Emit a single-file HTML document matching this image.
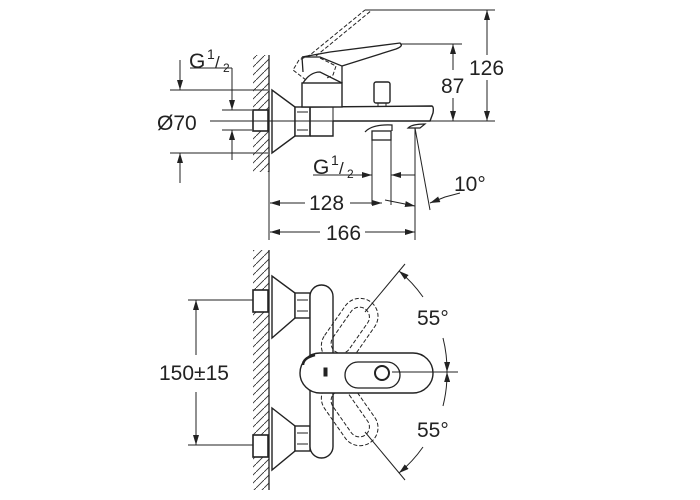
<!DOCTYPE html>
<html><head><style>
html,body{margin:0;padding:0;background:#fff;}
svg{display:block;}
text{font-family:"Liberation Sans",sans-serif;fill:#222;}
</style></head><body>
<svg width="700" height="500" viewBox="0 0 700 500" xmlns="http://www.w3.org/2000/svg">
<defs>
<pattern id="h" width="8" height="8" patternUnits="userSpaceOnUse">
<path d="M0 8 L8 0" stroke="#333" stroke-width="0.9"/>
</pattern>
<marker id="a" markerWidth="10" markerHeight="6" refX="10" refY="3" orient="auto" markerUnits="userSpaceOnUse">
<path d="M0 0 L10 3 L0 6 Z" fill="#222"/>
</marker>
</defs>
<g stroke="#222" fill="none" stroke-width="1">
<!-- TOP VIEW -->
<rect x="253" y="55" width="16" height="117" fill="url(#h)" stroke="none"/>
<line x1="269" y1="55" x2="269" y2="172" stroke-width="1.3"/>
<rect x="253" y="110" width="15" height="21" fill="#fff" stroke-width="1.6"/>
<path d="M272 90 L272 153 L295 136 L295 107 Z" fill="#fff" stroke-width="1.4"/>
<rect x="295" y="107" width="15" height="29" fill="#fff" stroke-width="1.4"/>
<path d="M297 112 L308 112 M297 121 L308 121 M297 130 L308 130"/>
<path d="M310 107 L432 106 Q434 107 433 113 L430 121 L333 121 M310 136 L333 136 L333 121" stroke-width="1.4" fill="#fff"/>
<path d="M333 107 L333 136" />
<path d="M310 107 L310 136" stroke-width="1.4"/>
<path d="M365 132 Q372 124 392 125 L392 131 M408 128 Q412 124 425 124 L420 128 Z" stroke-width="1.2"/>
<rect x="302" y="83" width="40" height="24" fill="#fff" stroke-width="1.4"/>
<path d="M303 83 Q310 72 320 72 L342 83" stroke-width="1.3"/>
<path d="M302 57 L320 57 L342 66 L342 83 M302 57 L303 72 M302 57 L330 52 L400 43 Q404 46 396 49 L342 66" stroke-width="1.3"/>
<path d="M306 80 L293 70 L299 60 L310 55 L365 10 M316 56 L372 10 M320 58 L336 66 L333 75 L327 78" stroke-dasharray="4 2"/>
<rect x="374" y="82" width="16" height="21" rx="2" fill="#fff" stroke-width="1.4"/>
<line x1="378" y1="103" x2="378" y2="106"/><line x1="386" y1="103" x2="386" y2="106"/>
<rect x="372" y="131" width="19" height="9" stroke-width="1.3"/>
<line x1="372" y1="140" x2="372" y2="205"/><line x1="391" y1="140" x2="391" y2="205"/>
<line x1="210" y1="121" x2="495" y2="121"/>
<line x1="365" y1="10" x2="495" y2="10"/>
<line x1="400" y1="44" x2="462" y2="44"/>
<line x1="487" y1="55" x2="487" y2="10" marker-end="url(#a)"/>
<line x1="487" y1="80" x2="487" y2="121" marker-end="url(#a)"/>
<line x1="453" y1="70" x2="453" y2="44" marker-end="url(#a)"/>
<line x1="453" y1="98" x2="453" y2="121" marker-end="url(#a)"/>
<line x1="170" y1="90" x2="268" y2="90"/>
<line x1="170" y1="153" x2="268" y2="153"/>
<line x1="180" y1="60" x2="180" y2="90" marker-end="url(#a)"/>
<line x1="180" y1="183" x2="180" y2="153" marker-end="url(#a)"/>
<line x1="190" y1="68" x2="232" y2="68"/>
<line x1="232" y1="68" x2="232" y2="110" marker-end="url(#a)"/>
<line x1="222" y1="110" x2="252" y2="110"/>
<line x1="222" y1="130" x2="252" y2="130"/>
<line x1="232" y1="160" x2="232" y2="130" marker-end="url(#a)"/>
<line x1="269" y1="172" x2="269" y2="240"/>
<line x1="415" y1="128" x2="415" y2="240"/>
<line x1="313" y1="175" x2="372" y2="175" marker-end="url(#a)"/>
<line x1="415" y1="175" x2="391" y2="175" marker-end="url(#a)"/>
<line x1="305" y1="203" x2="270" y2="203" marker-end="url(#a)"/>
<line x1="350" y1="203" x2="382" y2="203" marker-end="url(#a)"/>
<path d="M385 200 Q400 203 415 206" marker-end="url(#a)"/>
<line x1="415" y1="128" x2="430" y2="210"/>
<path d="M460 193 L445 197 L430 203" marker-end="url(#a)"/>
<line x1="320" y1="232" x2="270" y2="232" marker-end="url(#a)"/>
<line x1="365" y1="232" x2="415" y2="232" marker-end="url(#a)"/>

<!-- BOTTOM VIEW -->
<rect x="253" y="250" width="16" height="240" fill="url(#h)" stroke="none"/>
<line x1="269" y1="250" x2="269" y2="490" stroke-width="1.3"/>
<rect x="253" y="290" width="15" height="22" fill="#fff" stroke-width="1.6"/>
<rect x="253" y="435" width="15" height="22" fill="#fff" stroke-width="1.6"/>
<path d="M272 276 L272 338 L295 318 L295 293 Z" fill="#fff" stroke-width="1.4"/>
<path d="M272 408 L272 470 L295 451 L295 426 Z" fill="#fff" stroke-width="1.4"/>
<rect x="295" y="293" width="15" height="25" fill="#fff" stroke-width="1.4"/>
<rect x="295" y="426" width="15" height="25" fill="#fff" stroke-width="1.4"/>
<path d="M297 300 L308 300 M297 311 L308 311 M297 433 L308 433 M297 444 L308 444"/>
<rect x="310" y="285" width="23" height="173" rx="11.5" fill="#fff" stroke-width="1.4"/>
<g stroke-dasharray="4 2" transform="rotate(-55 321 372)">
<rect x="335" y="354" width="72" height="36" rx="18"/>
<rect x="346" y="362" width="52" height="20" rx="10"/>
</g>
<g stroke-dasharray="4 2" transform="rotate(55 321 372)">
<rect x="335" y="354" width="72" height="36" rx="18"/>
<rect x="346" y="362" width="52" height="20" rx="10"/>
</g>
<rect x="300" y="353" width="133" height="40" rx="20" fill="#fff" stroke-width="1.4"/>
<path d="M303 365 Q303 358 315 355" stroke-width="2.5"/>
<rect x="345" y="362" width="55" height="26" rx="13" stroke-width="1.3"/>
<circle cx="382" cy="373" r="7" stroke-width="2"/>
<rect x="324" y="368" width="3" height="8" fill="#222"/>
<line x1="392" y1="372" x2="458" y2="372"/>
<line x1="365" y1="312" x2="405" y2="264"/>
<line x1="365" y1="432" x2="405" y2="480"/>
<path d="M423 297 A131 131 0 0 0 399 271" marker-end="url(#a)"/>
<path d="M443 338 A131 131 0 0 1 447 372" marker-end="url(#a)"/>
<path d="M423 447 A131 131 0 0 1 399 473" marker-end="url(#a)"/>
<path d="M443 406 A131 131 0 0 0 447 372" marker-end="url(#a)"/>
<line x1="188" y1="300" x2="253" y2="300"/>
<line x1="188" y1="445" x2="253" y2="445"/>
<line x1="196" y1="355" x2="196" y2="300" marker-end="url(#a)"/>
<line x1="196" y1="392" x2="196" y2="445" marker-end="url(#a)"/>
</g>
<g font-size="21">
<text x="189" y="68">G</text><text x="207" y="59" font-size="14">1</text><text x="215" y="68" font-size="17">/</text><text x="223" y="72" font-size="12">2</text>
<text x="157" y="130">Ø70</text>
<text x="313" y="174">G</text><text x="331" y="165" font-size="14">1</text><text x="339" y="174" font-size="17">/</text><text x="347" y="178" font-size="12">2</text>
<text x="309" y="210">128</text>
<text x="326" y="240">166</text>
<text x="454" y="191">10°</text>
<text x="441" y="93">87</text>
<text x="469" y="75">126</text>
<text x="159" y="380">150±15</text>
<text x="417" y="325">55°</text>
<text x="417" y="437">55°</text>
</g>
</svg>
</body></html>
